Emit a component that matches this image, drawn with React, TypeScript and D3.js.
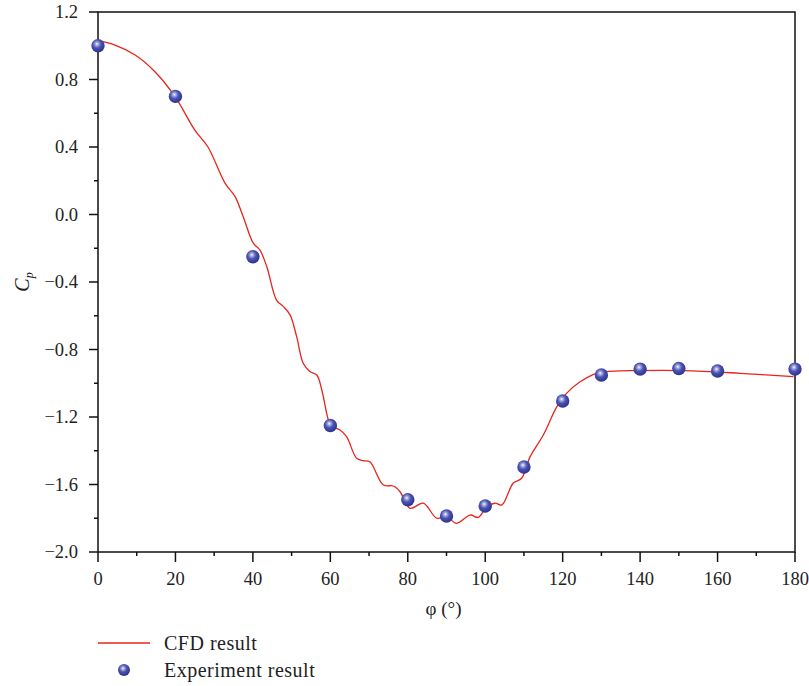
import React from 'react';
import * as d3 from 'd3';

// CFD curve (phi in degrees, Cp)
const cfdPhi = [0, 4.4, 9.6, 14.7, 19.9, 25, 28.4, 32.8, 35.4, 37.5, 40.1, 41.8, 43.6, 46.1, 47.9, 49.6, 51.3, 53, 54.7, 56.5, 57.8, 59.5, 60.4, 62.5, 64.2, 66.8, 68.5, 70.2, 73.7, 76.3, 78, 80.6, 84, 87.5, 90, 92.6, 96.1, 98.2, 100.4, 102.5, 104.3, 107.2, 109.4, 111.6, 115, 118.5, 121, 124.5, 128.8, 134.8, 138.2, 151.2, 165.8, 179.6];
const cfdCp = [1.03, 1.004, 0.945, 0.846, 0.698, 0.5, 0.4, 0.186, 0.106, -0.013, -0.17, -0.21, -0.31, -0.507, -0.546, -0.595, -0.724, -0.882, -0.931, -0.951, -1.04, -1.218, -1.257, -1.277, -1.317, -1.445, -1.459, -1.465, -1.603, -1.609, -1.643, -1.741, -1.711, -1.8, -1.79, -1.83, -1.781, -1.795, -1.731, -1.711, -1.721, -1.593, -1.563, -1.435, -1.307, -1.139, -1.06, -0.991, -0.941, -0.927, -0.925, -0.925, -0.941, -0.961];

// Experiment points
const expPhi = [0, 20, 40, 60, 80, 90, 100, 110, 120, 130, 140, 150, 160, 180];
const expCp = [1.0, 0.7, -0.25, -1.25, -1.69, -1.787, -1.727, -1.496, -1.105, -0.951, -0.916, -0.913, -0.927, -0.916];

const xTicks = [0, 20, 40, 60, 80, 100, 120, 140, 160, 180];
const yTicks = [1.2, 0.8, 0.4, 0.0, -0.4, -0.8, -1.2, -1.6, -2.0];

const W = 809;
const H = 686;
const left = 98, right = 795, top = 12, bottom = 552;
const font = '"Liberation Serif", "DejaVu Serif", serif';

const fmt = (v: number) => (v < 0 ? '\u2212' : '') + Math.abs(v).toFixed(1);

export default function App() {
  const x = d3.scaleLinear().domain([0, 180]).range([left, right]);
  const y = d3.scaleLinear().domain([-2.0, 1.2]).range([bottom, top]);

  const cfd = cfdPhi.map((p, i) => [p, cfdCp[i]] as [number, number]);
  const line = d3
    .line<[number, number]>()
    .x(d => x(d[0]))
    .y(d => y(d[1]))
    .curve(d3.curveCatmullRom.alpha(0.5));

  const xMinor = d3.range(10, 180, 20);
  const yMinor = d3.range(-1.8, 1.2, 0.4);

  return (
    <svg width={W} height={H} style={{ position: 'absolute', left: 0, top: 0, background: '#fff' }} fontFamily={font}>
      <defs>
        <radialGradient id="ball" cx="0.42" cy="0.38" r="0.62" fx="0.42" fy="0.36">
          <stop offset="0" stopColor="#ffffff" />
          <stop offset="0.18" stopColor="#a9aee0" />
          <stop offset="0.5" stopColor="#4b52b0" />
          <stop offset="1" stopColor="#2c3290" />
        </radialGradient>
      </defs>

      {/* frame */}
      <rect x={left} y={top} width={right - left} height={bottom - top} fill="none" stroke="#111" strokeWidth={1.5} />

      {/* y ticks */}
      {yTicks.map(t => (
        <g key={'y' + t}>
          <line x1={left - 9} x2={left} y1={y(t)} y2={y(t)} stroke="#111" strokeWidth={1.5} />
          <text x={left - 20} y={y(t)} dy="0.34em" textAnchor="end" fontSize={18.5} fill="#222">
            {fmt(t)}
          </text>
        </g>
      ))}
      {yMinor.map(t => (
        <line key={'ym' + t} x1={left - 4} x2={left} y1={y(t)} y2={y(t)} stroke="#111" strokeWidth={1.5} />
      ))}

      {/* x ticks */}
      {xTicks.map(t => (
        <g key={'x' + t}>
          <line x1={x(t)} x2={x(t)} y1={bottom} y2={bottom + 10} stroke="#111" strokeWidth={1.5} />
          <text x={x(t)} y={bottom + 33} textAnchor="middle" fontSize={18.5} fill="#222">
            {t}
          </text>
        </g>
      ))}
      {xMinor.map(t => (
        <line key={'xm' + t} x1={x(t)} x2={x(t)} y1={bottom} y2={bottom + 4} stroke="#111" strokeWidth={1.5} />
      ))}

      {/* axis titles */}
      <text x={(left + right) / 2 - 3} y={bottom + 63} textAnchor="middle" fontSize={19} fill="#222">
        φ (°)
      </text>
      <text transform={`translate(29, ${(top + bottom) / 2}) rotate(-90)`} textAnchor="middle" fontSize={20} fill="#222">
        <tspan fontStyle="italic">C</tspan>
        <tspan fontStyle="italic" fontSize={12} dy="4">p</tspan>
      </text>

      {/* CFD line */}
      <path d={line(cfd) || ''} fill="none" stroke="#e8241c" strokeWidth={1.3} />

      {/* experiment points */}
      {expPhi.map((p, i) => (
        <circle key={'e' + p} cx={x(p)} cy={y(expCp[i])} r={6.7} fill="url(#ball)" />
      ))}

      {/* legend */}
      <line x1={98} x2={150} y1={643} y2={643} stroke="#e8241c" strokeWidth={1.3} />
      <text x={164} y={650} fontSize={20} letterSpacing={0.5} fill="#222">CFD result</text>
      <circle cx={124} cy={670} r={6} fill="url(#ball)" />
      <text x={164} y={677} fontSize={20} letterSpacing={0.5} fill="#222">Experiment result</text>
    </svg>
  );
}
